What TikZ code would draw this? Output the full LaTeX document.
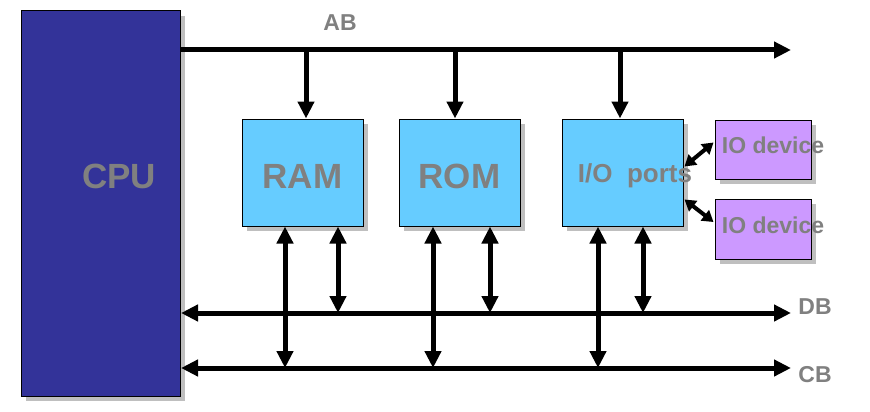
\documentclass[tikz,border=0pt]{standalone}
\usepackage{fontspec}
\setmainfont{Liberation Sans}
\usetikzlibrary{arrows.meta,shadows}
\definecolor{cpublue}{HTML}{333399}
\definecolor{memblue}{HTML}{66CCFF}
\definecolor{devviolet}{HTML}{CC99FF}
\definecolor{txtgray}{HTML}{808080}
\begin{document}
\begin{tikzpicture}[x=1pt,y=-1pt,
  box/.style={draw=black,line width=1pt,inner sep=0pt,
    drop shadow={shadow xshift=5pt,shadow yshift=-5pt,fill=black,opacity=0.25}},
  lbl/.style={text=txtgray,font=\bfseries,inner sep=0pt},
  bus/.style={line width=5pt,-{Triangle[length=17pt,width=16pt]}},
  bibus/.style={line width=5pt,{Triangle[length=17pt,width=16pt]}-{Triangle[length=17pt,width=16pt]}},
  bidev/.style={line width=4pt,{Triangle[length=11pt,width=13pt]}-{Triangle[length=11pt,width=13pt]}}]
\useasboundingbox (0,0) rectangle (870,412);
% boxes
\node[box,fill=cpublue,minimum width=159pt,minimum height=385pt] (cpu) at (100.5,203.5) {};
\node[box,fill=memblue,minimum width=121pt,minimum height=107pt,lbl,font=\fontsize{35}{35}\bfseries,text height=32pt] (ram) at (302.5,172.5) {RAM};
\node[box,fill=memblue,minimum width=121pt,minimum height=107pt,lbl,font=\fontsize{35}{35}\bfseries,text height=32pt] (rom) at (459.5,172.5) {ROM};
\node[box,fill=memblue,minimum width=121pt,minimum height=107pt] (io) at (622.5,172.5) {};
\node[box,fill=devviolet,minimum width=96pt,minimum height=59pt] (dev1) at (763,149.5) {};
\node[box,fill=devviolet,minimum width=96pt,minimum height=60pt] (dev2) at (763,229) {};
% texts
\node[lbl,font=\fontsize{35}{35}\bfseries] (cputxt) at (119,176) {CPU};
\node[lbl,font=\fontsize{26}{26}\bfseries] (iotxt) at (635,176) {I/O\ \ ports};
\node[lbl,font=\fontsize{23}{23}\bfseries] (dev1txt) at (773,145) {IO device};
\node[lbl,font=\fontsize{23}{23}\bfseries] (dev2txt) at (773,225) {IO device};
\node[lbl,font=\fontsize{23}{23}\bfseries] (ab) at (340,23) {AB};
\node[lbl,font=\fontsize{23}{23}\bfseries] (db) at (815,307) {DB};
\node[lbl,font=\fontsize{23}{23}\bfseries] (cb) at (815,375) {CB};
% bus ends
\coordinate (abend) at (791,50);
\coordinate (dbend) at (791,313);
\coordinate (cbend) at (791,368);
% address bus
\draw[bus] (cpu.east |- abend) -- (abend);
\draw[bus] ([xshift=3.5pt]ram.north |- abend) -- ([xshift=3.5pt]ram.north);
\draw[bus] ([xshift=-4.5pt]rom.north |- abend) -- ([xshift=-4.5pt]rom.north);
\draw[bus] ([xshift=-2.5pt]io.north |- abend) -- ([xshift=-2.5pt]io.north);
% data and control buses
\draw[bibus] ([xshift=0.5pt]cpu.east |- dbend) -- (dbend);
\draw[bibus] ([xshift=0.5pt]cpu.east |- cbend) -- (cbend);
% verticals
\draw[bibus] ([xshift=-17.5pt]ram.south) -- ([xshift=-17.5pt]ram.south |- cbend);
\draw[bibus] ([xshift=35.5pt]ram.south) -- ([xshift=35.5pt]ram.south |- dbend);
\draw[bibus] ([xshift=-26.5pt]rom.south) -- ([xshift=-26.5pt]rom.south |- cbend);
\draw[bibus] ([xshift=30.5pt]rom.south) -- ([xshift=30.5pt]rom.south |- dbend);
\draw[bibus] ([xshift=-24.5pt]io.south) -- ([xshift=-24.5pt]io.south |- cbend);
\draw[bibus] ([xshift=20.5pt]io.south) -- ([xshift=20.5pt]io.south |- dbend);
% device links
\draw[bidev] ([xshift=1pt,yshift=6pt]io.east) -- ([xshift=-1pt,yshift=7pt]dev1.west);
\draw[bidev] ([xshift=1pt,yshift=-27pt]io.east) -- ([xshift=-1pt,yshift=7pt]dev2.west);
\end{tikzpicture}
\end{document}
